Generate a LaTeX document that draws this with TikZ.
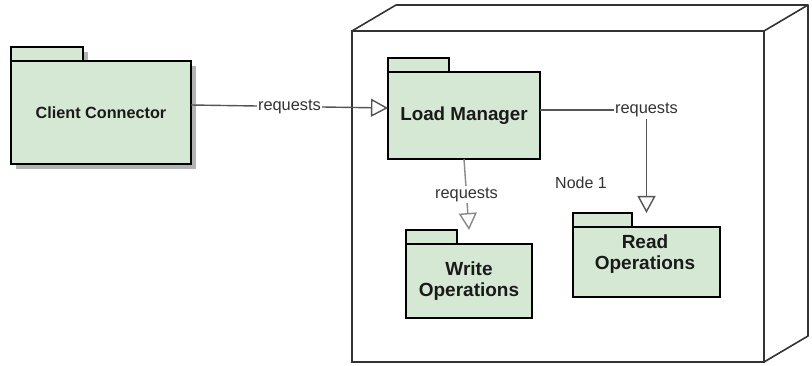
\documentclass[tikz,border=0pt]{standalone}
\usepackage{fontspec}
\setmainfont{Liberation Sans}
\usetikzlibrary{arrows.meta,calc}
\definecolor{pkgfill}{HTML}{D5E8D4}
\definecolor{edgegray}{HTML}{555555}
\definecolor{cubegray}{HTML}{333333}
\definecolor{shadowgray}{HTML}{B3B3B3}
\definecolor{inkdark}{HTML}{1A1A1A}
\tikzset{
  pkgbody/.style={draw=black, line width=2.4pt, fill=pkgfill, text=inkdark,
    align=center, inner sep=0pt, outer sep=0pt},
  pkgtab/.style={draw=black, line width=2.4pt, fill=pkgfill,
    minimum height=14pt, inner sep=0pt, outer sep=0pt, anchor=south west},
  castshadow/.style={preaction={fill=shadowgray,
    transform canvas={xshift=5pt,yshift=-5pt}}},
  realize/.style={draw=edgegray, line width=1.4pt,
    -{Triangle[open,length=17pt,width=18pt,line width=1.4pt]}},
  edgelabel/.style={fill=white, inner sep=1.5pt, text=cubegray,
    font=\fontsize{16.4}{18}\selectfont},
  bigfont/.style={font=\fontsize{19}{20.5}\selectfont\bfseries},
}
\begin{document}
\begin{tikzpicture}[x=1pt,y=-1pt]
\useasboundingbox (0,0) rectangle (812,366);

% execution node drawn as a box in perspective
\node[draw=cubegray, line width=1.6pt, fill=white, minimum width=412pt,
  minimum height=331pt, inner sep=0pt, outer sep=0pt] (node1) at (558,196.5) {};
\draw[cubegray, line width=1.6pt, line join=round]
  (node1.north west) -- ++(44,-26) coordinate (backtl)
  -- ($(node1.north east)+(44,-26)$) coordinate (backtr)
  -- (node1.north east);
\draw[cubegray, line width=1.6pt, line join=round]
  (backtr) -- ($(node1.south east)+(44,-26)$) -- (node1.south east);
\node[text=cubegray, font=\fontsize{16}{18}\selectfont] (nodelabel) at (581,183) {Node 1};

% packages
\node[pkgtab, castshadow, minimum width=72pt] (cctab) at (11,61) {};
\node[pkgbody, castshadow, minimum width=180pt, minimum height=103pt,
  font=\fontsize{16.2}{18}\selectfont\bfseries] (cc) at (101,112.5) {Client Connector};
\node[pkgtab, minimum width=72pt] at (cc.north west) {};

\node[pkgbody, minimum width=152pt, minimum height=87pt,
  font=\fontsize{18.8}{20}\selectfont\bfseries] (lm) at (464,115.5) {Load Manager};
\node[pkgtab, minimum width=61pt] (lmtab) at (lm.north west) {};

\node[pkgbody, bigfont, minimum width=126pt, minimum height=74pt] (wr) at (469,281) {Write\\Operations};
\node[pkgtab, minimum width=51pt] (wrtab) at (wr.north west) {};

\node[pkgbody, minimum width=147pt, minimum height=70pt] (rd) at (646.5,262) {};
\node[pkgtab, minimum width=59pt] (rdtab) at (rd.north west) {};
\node[bigfont, text=inkdark, align=center] (rdtext) at (645,254) {Read\\Operations};

% dependencies
\draw[realize] ($(cc.east)+(0,-7.5)$) -- node[edgelabel, pos=0.5] (req1) {requests}
  ($(lm.west)+(0,-7.5)$);
\draw[realize] ($(lm.east)+(0,-5.5)$) -| node[edgelabel, pos=0.5] (req2) {requests}
  (rd.center |- rdtab.north);
\draw[realize, draw=edgegray!70] (lm.south) -- node[edgelabel, pos=0.5] (req3) {requests}
  (wr.center |- wrtab.north);
\end{tikzpicture}
\end{document}
